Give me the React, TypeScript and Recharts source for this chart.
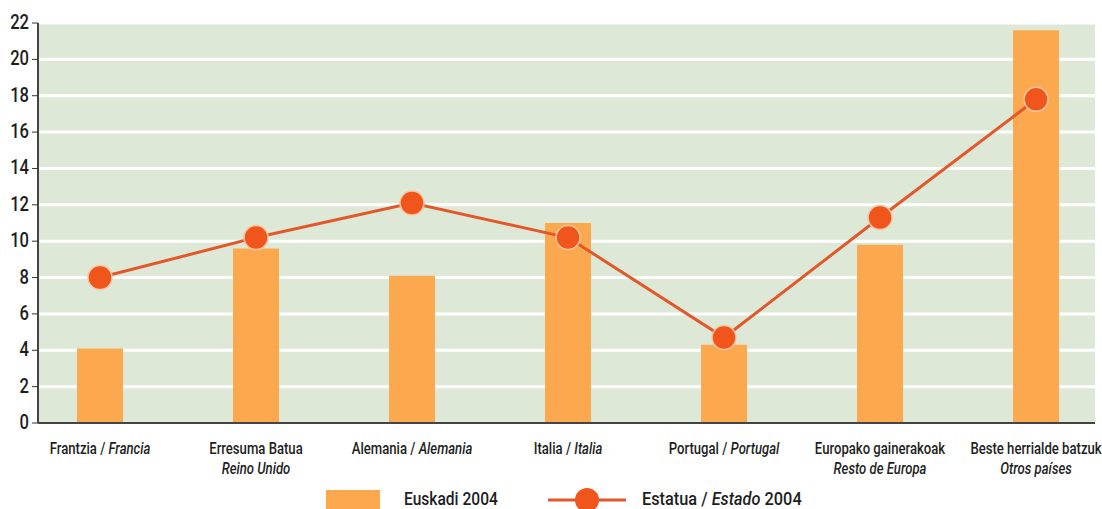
import React from 'react';
import {
  ComposedChart,
  Bar,
  Line,
  XAxis,
  YAxis,
  CartesianGrid
} from 'recharts';

// category labels: basque text + spanish (italic)
const basque = [
  'Frantzia',
  'Erresuma Batua',
  'Alemania',
  'Italia',
  'Portugal',
  'Europako gainerakoak',
  'Beste herrialde batzuk'
];
const spanish = [
  'Francia',
  'Reino Unido',
  'Alemania',
  'Italia',
  'Portugal',
  'Resto de Europa',
  'Otros países'
];
const twoLines = [false, true, false, false, false, true, true];

const euskadi2004 = [4.1, 9.6, 8.1, 11.0, 4.3, 9.8, 21.6];
const estatua2004 = [8.0, 10.2, 12.1, 10.2, 4.7, 11.3, 17.8];

const yTicks = [0, 2, 4, 6, 8, 10, 12, 14, 16, 18, 20, 22];
const separatorTicks = [0.5, 1.5, 2.5, 3.5, 4.5, 5.5];

const data = basque.map((b, i) => ({
  idx: i,
  euskadi: euskadi2004[i],
  estatua: estatua2004[i]
}));

// no condensed font installed, so squeeze Roboto horizontally
const FONT = 'Roboto, "Noto Sans", sans-serif';
const BAR_COLOR = '#fba84f';
const LINE_COLOR = '#e2582a';
const DOT_COLOR = '#f0561c';
const TEXT_COLOR = '#1e1e1e';

const Condensed = ({ x, y, anchor = 'middle', size, squeeze = 0.85, children, italic = false }: any) => (
  <text
    transform={`translate(${x},${y}) scale(${squeeze},1)`}
    textAnchor={anchor}
    fontFamily={FONT}
    fontSize={size}
    fontWeight={500}
    fontStyle={italic ? 'italic' : 'normal'}
    fill={TEXT_COLOR}
  >
    {children}
  </text>
);

const CategoryTick = (props: any) => {
  const { x, y, payload } = props;
  const i = Math.round(payload.value);
  if (i < 0 || i > 6) return null;
  if (twoLines[i]) {
    return (
      <g>
        <Condensed x={x} y={y + 23} size={16} squeeze={0.82}>{basque[i]}</Condensed>
        <Condensed x={x} y={y + 43} size={16} squeeze={0.82} italic>{spanish[i]}</Condensed>
      </g>
    );
  }
  return (
    <Condensed x={x} y={y + 23} size={16} squeeze={0.82}>
      <tspan>{basque[i]} / </tspan>
      <tspan fontStyle="italic">{spanish[i]}</tspan>
    </Condensed>
  );
};

const ValueTick = (props: any) => {
  const { x, y, payload } = props;
  return (
    <Condensed x={x - 1} y={y + 6} size={19.5} anchor="end">
      {payload.value}
    </Condensed>
  );
};

const App = () => {
  return (
    <div style={{ position: 'absolute', left: 0, top: 0, width: 1102, height: 509, background: '#fff' }}>
      <ComposedChart
        width={1102}
        height={509}
        data={data}
        margin={{ top: 23, right: 7, left: 0, bottom: 26 }}
      >
        <CartesianGrid
          vertical={false}
          fill="#dde9d6"
          stroke="#ffffff"
          strokeWidth={3}
          horizontalValues={yTicks.slice(1)}
        />
        <XAxis
          xAxisId="sep"
          dataKey="idx"
          type="number"
          domain={[-0.3974, 6.378]}
          ticks={separatorTicks}
          tick={false}
          tickLine={{ stroke: '#333' }}
          tickSize={8}
          axisLine={false}
          height={0}
          allowDataOverflow
        />
        <XAxis
          xAxisId="main"
          dataKey="idx"
          type="number"
          domain={[-0.3974, 6.378]}
          ticks={[0, 1, 2, 3, 4, 5, 6]}
          tick={<CategoryTick />}
          tickLine={false}
          axisLine={{ stroke: '#444', strokeWidth: 2 }}
          height={60}
          interval={0}
          allowDataOverflow
        />
        <YAxis
          domain={[0, 22]}
          ticks={yTicks}
          width={38}
          interval={0}
          tickSize={6}
          tickLine={{ stroke: '#333' }}
          axisLine={{ stroke: '#444', strokeWidth: 2 }}
          tick={<ValueTick />}
          allowDataOverflow
        />
        <Bar
          xAxisId="main"
          dataKey="euskadi"
          fill={BAR_COLOR}
          barSize={46}
          isAnimationActive={false}
        />
        <Line
          xAxisId="main"
          dataKey="estatua"
          type="linear"
          stroke={LINE_COLOR}
          strokeWidth={3}
          dot={{ r: 12, fill: DOT_COLOR, stroke: '#f8c6a4', strokeWidth: 1.5 }}
          isAnimationActive={false}
        />
      </ComposedChart>
      <svg
        width={1102}
        height={29}
        style={{ position: 'absolute', left: 0, top: 480 }}
      >
        <rect x={326} y={10} width={54} height={19} fill={BAR_COLOR} />
        <Condensed x={404} y={25} size={19} squeeze={0.82} anchor="start">Euskadi 2004</Condensed>
        <line x1={548} y1={20} x2={626} y2={20} stroke={LINE_COLOR} strokeWidth={3} />
        <circle cx={587} cy={20} r={12} fill={DOT_COLOR} />
        <Condensed x={642} y={25} size={19} squeeze={0.86} anchor="start">
          <tspan>Estatua / </tspan>
          <tspan fontStyle="italic">Estado</tspan>
          <tspan> 2004</tspan>
        </Condensed>
      </svg>
    </div>
  );
};

export default App;
